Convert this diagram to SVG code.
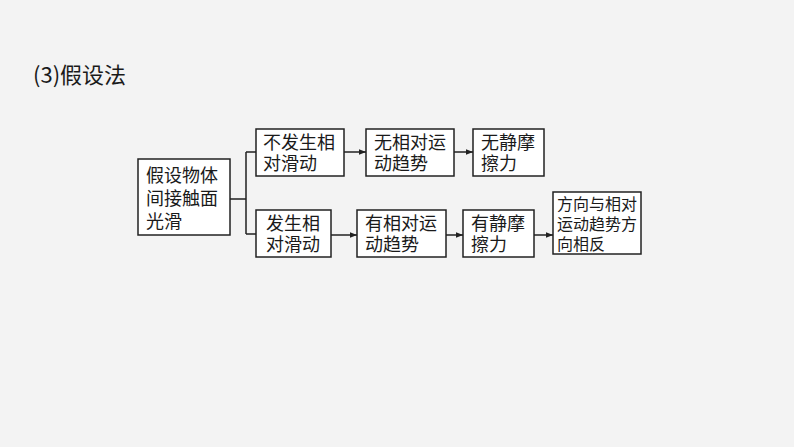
<svg xmlns="http://www.w3.org/2000/svg" width="794" height="447" viewBox="0 0 794 447">
<style>
rect.n{fill:#fff;stroke:#222;stroke-width:1.5}
text{font-family:"Noto Sans CJK SC","Liberation Serif",serif;font-size:18px;fill:#1a1a1a}
.s{font-size:16px}
.c path{fill:none;stroke:#222;stroke-width:1.5}
</style>
<defs><marker id="a" viewBox="0 0 10 10" refX="10" refY="5" markerWidth="9" markerHeight="7" orient="auto" markerUnits="userSpaceOnUse"><path d="M0,1 L10,5 L0,9 Z" fill="#222"/></marker></defs>
<rect width="794" height="447" fill="#f3f3f3"/>
<text x="33" y="83" style="font-size:22px">(3)假设法</text>
<g id="n0"><rect class="n" x="138" y="159" width="92" height="76"/><text x="146" y="182">假设物体</text><text x="146" y="205">间接触面</text><text x="146" y="228">光滑</text></g>
<g id="n1"><rect class="n" x="256" y="129" width="88" height="47"/><text x="263" y="149">不发生相</text><text x="263" y="170">对滑动</text></g>
<g id="n2"><rect class="n" x="366" y="129" width="88" height="47"/><text x="374" y="149">无相对运</text><text x="374" y="170">动趋势</text></g>
<g id="n3"><rect class="n" x="473" y="129" width="71" height="47"/><text x="481" y="149">无静摩</text><text x="481" y="170">擦力</text></g>
<g id="n4"><rect class="n" x="256" y="210" width="75" height="47"/><text x="266" y="230">发生相</text><text x="266" y="251">对滑动</text></g>
<g id="n5"><rect class="n" x="357" y="210" width="89" height="47"/><text x="365" y="230">有相对运</text><text x="365" y="251">动趋势</text></g>
<g id="n6"><rect class="n" x="463" y="210" width="71" height="47"/><text x="471" y="230">有静摩</text><text x="471" y="251">擦力</text></g>
<g id="n7"><rect class="n" x="553" y="192" width="88" height="62"/><text class="s" x="557" y="210">方向与相对</text><text class="s" x="557" y="230">运动趋势方</text><text class="s" x="557" y="250">向相反</text></g>
<g class="c">
<path d="M230,199 H246 M246,152 V234 M246,152 H256 M246,234 H256"/>
<path d="M344,152 H366" marker-end="url(#a)"/>
<path d="M454,152 H473" marker-end="url(#a)"/>
<path d="M331,235 H357" marker-end="url(#a)"/>
<path d="M446,235 H463" marker-end="url(#a)"/>
<path d="M534,235 H553" marker-end="url(#a)"/>
</g>
</svg>
